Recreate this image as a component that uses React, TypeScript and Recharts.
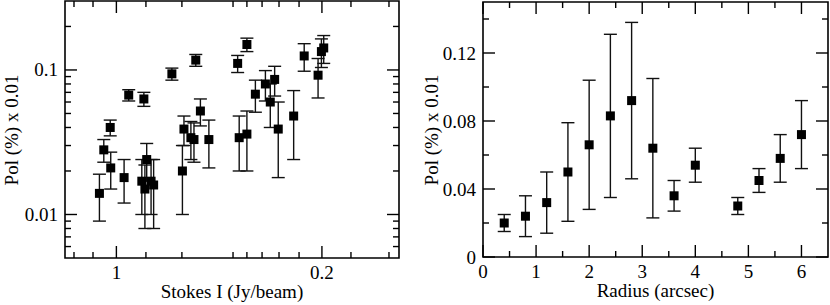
import { ScatterChart, Scatter, XAxis, YAxis, ErrorBar, ReferenceArea } from 'recharts'

// ---- left panel: polarisation vs Stokes I ----
const stokesI = [
  1.066, 1.049, 1.024, 1.022, 0.97, 0.952, 0.893, 0.901, 0.889, 0.882, 0.865, 0.855,
  0.784, 0.743, 0.737, 0.71, 0.698, 0.691, 0.673, 0.64, 0.528, 0.522, 0.492, 0.492,
  0.459, 0.42, 0.401, 0.384, 0.37, 0.31, 0.269, 0.215, 0.202, 0.193,
]
const polVsFlux = [
  0.014, 0.028, 0.04, 0.021, 0.018, 0.067, 0.063, 0.017, 0.015, 0.024, 0.017, 0.016,
  0.094, 0.02, 0.039, 0.034, 0.033, 0.117, 0.052, 0.033, 0.111, 0.034, 0.15, 0.036,
  0.068, 0.08, 0.06, 0.086, 0.039, 0.048, 0.125, 0.092, 0.134, 0.142,
]
const polVsFluxErr = [
  0.005, 0.005, 0.005, 0.006, 0.006, 0.006, 0.007, 0.007, 0.007, 0.007, 0.007, 0.008,
  0.009, 0.01, 0.009, 0.01, 0.01, 0.011, 0.011, 0.012, 0.015, 0.014, 0.016, 0.016,
  0.017, 0.019, 0.02, 0.02, 0.021, 0.024, 0.027, 0.028, 0.03, 0.031,
]

const fluxDomain = [-0.1, 1.2]
const fluxMajor = [1, 0.2]
const fluxMajorLabels = ['1', '0.2']
const fluxMinor = [1.165, 1.091, 0.885, 0.745, 0.546, 0.492, 0.433, 0.367, 0.289, 0.087, -0.061]

const polLogDomain = [0.005, 0.3]
const polLogMajor = [0.01, 0.1]
const polLogMajorLabels = ['0.01', '0.1']
const polLogMinor = [
  0.006, 0.007, 0.008, 0.009, 0.02, 0.03, 0.04, 0.05, 0.06, 0.07, 0.08, 0.09, 0.2,
]

// ---- right panel: polarisation vs radius ----
const radius = [0.4, 0.8, 1.2, 1.6, 2.0, 2.4, 2.8, 3.2, 3.6, 4.0, 4.8, 5.2, 5.6, 6.0]
const polVsRadius = [
  0.02, 0.024, 0.032, 0.05, 0.066, 0.083, 0.092, 0.064, 0.036, 0.054, 0.03, 0.045, 0.058, 0.072,
]
const polVsRadiusErr = [
  0.005, 0.012, 0.018, 0.029, 0.038, 0.048, 0.046, 0.041, 0.009, 0.01, 0.005, 0.007, 0.014, 0.02,
]

const radiusDomain = [0, 6.5]
const radiusMajor = [0, 1, 2, 3, 4, 5, 6]
const radiusMajorLabels = ['0', '1', '2', '3', '4', '5', '6']
const radiusMinor = [0.5, 1.5, 2.5, 3.5, 4.5, 5.5]

const polLinDomain = [0, 0.15]
const polLinMajor = [0, 0.04, 0.08, 0.12]
const polLinMajorLabels = ['0', '0.04', '0.08', '0.12']
const polLinMinor = [0.02, 0.06, 0.1, 0.14]

const FONT = '"Liberation Serif", "DejaVu Serif", serif'
const FS = 19
const MAJOR_LEN = 12
const MINOR_LEN = 6

function labelFor(v: number, major: number[], labels: string[]) {
  const i = major.findIndex((m) => Math.abs(m - v) < 1e-9)
  return i === -1 ? null : labels[i]
}

// ticks drawn inward on bottom + mirrored on top
function xTick(major: number[], labels: string[], plotH: number) {
  return (props: any) => {
    const { x, y, payload } = props
    const label = labelFor(payload.value, major, labels)
    const len = label != null ? MAJOR_LEN : MINOR_LEN
    return (
      <g>
        <line x1={x} x2={x} y1={y} y2={y - len} stroke="#000" strokeWidth={1.4} />
        <line x1={x} x2={x} y1={y - plotH} y2={y - plotH + len} stroke="#000" strokeWidth={1.4} />
        {label != null && (
          <text x={x} y={y + 20.5} textAnchor="middle" fontFamily={FONT} fontSize={FS} fill="#000">
            {label}
          </text>
        )}
      </g>
    )
  }
}

// ticks drawn inward on left + mirrored on right
function yTick(major: number[], labels: string[], plotW: number) {
  return (props: any) => {
    const { x, y, payload } = props
    const label = labelFor(payload.value, major, labels)
    const len = label != null ? MAJOR_LEN : MINOR_LEN
    return (
      <g>
        <line x1={x} x2={x + len} y1={y} y2={y} stroke="#000" strokeWidth={1.4} />
        <line x1={x + plotW} x2={x + plotW - len} y1={y} y2={y} stroke="#000" strokeWidth={1.4} />
        {label != null && (
          <text x={x - 7} y={y + 6.5} textAnchor="end" fontFamily={FONT} fontSize={FS} fill="#000">
            {label}
          </text>
        )}
      </g>
    )
  }
}

const squareMarker = (props: any) => (
  <rect x={props.cx - 4.5} y={props.cy - 4.5} width={9} height={9} fill="#000" />
)

const fluxData = stokesI.map((x, i) => ({ x, y: polVsFlux[i], err: polVsFluxErr[i] }))
const radiusData = radius.map((x, i) => ({ x, y: polVsRadius[i], err: polVsRadiusErr[i] }))

// axis boxes: YAxis 60 wide, XAxis 30 high; margins complete the plot box
const AX_W = 60
const AX_H = 30
const LEFT = { w: 420, h: 305, margin: { top: 1, right: 21, bottom: 47 - AX_H, left: 65 - AX_W } }
const RIGHT = { w: 410, h: 305, margin: { top: 2, right: 2, bottom: 48 - AX_H, left: 63 - AX_W } }

export default function App() {
  const lW = LEFT.w - 65 - LEFT.margin.right
  const lH = LEFT.h - LEFT.margin.top - 47
  const rW = RIGHT.w - 63 - RIGHT.margin.right
  const rH = RIGHT.h - RIGHT.margin.top - 48

  return (
    <div style={{ position: 'relative', width: 830, height: 305, background: '#fff' }}>
      <style>{'body{margin:0}'}</style>
      <div style={{ position: 'absolute', left: 0, top: 0 }}>
        <ScatterChart width={LEFT.w} height={LEFT.h} margin={LEFT.margin}>
          <XAxis
            type="number"
            dataKey="x"
            domain={fluxDomain}
            reversed
            allowDataOverflow
            ticks={[...fluxMajor, ...fluxMinor]}
            interval={0}
            height={AX_H}
            tickSize={0}
            tickMargin={0}
            axisLine={false}
            tickLine={false}
            tick={xTick(fluxMajor, fluxMajorLabels, lH)}
          />
          <YAxis
            type="number"
            dataKey="y"
            scale="log"
            domain={polLogDomain}
            allowDataOverflow
            ticks={[...polLogMajor, ...polLogMinor]}
            interval={0}
            width={AX_W}
            tickSize={0}
            tickMargin={0}
            axisLine={false}
            tickLine={false}
            tick={yTick(polLogMajor, polLogMajorLabels, lW)}
          />
          <ReferenceArea
            x1={fluxDomain[0]}
            x2={fluxDomain[1]}
            y1={polLogDomain[0]}
            y2={polLogDomain[1]}
            fill="none"
            fillOpacity={0}
            stroke="#000"
            strokeWidth={1.6}
          />
          <Scatter data={fluxData} shape={squareMarker} isAnimationActive={false}>
            <ErrorBar dataKey="err" direction="y" width={6.5} stroke="#111" strokeWidth={1.4} isAnimationActive={false} />
          </Scatter>
        </ScatterChart>
      </div>
      <div style={{ position: 'absolute', left: 420, top: 0 }}>
        <ScatterChart width={RIGHT.w} height={RIGHT.h} margin={RIGHT.margin}>
          <XAxis
            type="number"
            dataKey="x"
            domain={radiusDomain}
            allowDataOverflow
            ticks={[...radiusMajor, ...radiusMinor]}
            interval={0}
            height={AX_H}
            tickSize={0}
            tickMargin={0}
            axisLine={false}
            tickLine={false}
            tick={xTick(radiusMajor, radiusMajorLabels, rH)}
          />
          <YAxis
            type="number"
            dataKey="y"
            domain={polLinDomain}
            allowDataOverflow
            ticks={[...polLinMajor, ...polLinMinor]}
            interval={0}
            width={AX_W}
            tickSize={0}
            tickMargin={0}
            axisLine={false}
            tickLine={false}
            tick={yTick(polLinMajor, polLinMajorLabels, rW)}
          />
          <ReferenceArea
            x1={radiusDomain[0]}
            x2={radiusDomain[1]}
            y1={polLinDomain[0]}
            y2={polLinDomain[1]}
            fill="none"
            fillOpacity={0}
            stroke="#000"
            strokeWidth={1.6}
          />
          <Scatter data={radiusData} shape={squareMarker} isAnimationActive={false}>
            <ErrorBar dataKey="err" direction="y" width={6.5} stroke="#111" strokeWidth={1.4} isAnimationActive={false} />
          </Scatter>
        </ScatterChart>
      </div>
      {/* axis titles */}
      <svg width={830} height={305} style={{ position: 'absolute', left: 0, top: 0, pointerEvents: 'none' }}>
        <g fontFamily={FONT} fontSize={FS} fill="#000">
          <text x={232} y={298} textAnchor="middle">Stokes I (Jy/beam)</text>
          <text x={655.5} y={297} textAnchor="middle">Radius (arcsec)</text>
          <text x={18} y={130} textAnchor="middle" transform="rotate(-90 18 130)">Pol (%) x 0.01</text>
          <text x={438} y={130} textAnchor="middle" transform="rotate(-90 438 130)">Pol (%) x 0.01</text>
        </g>
      </svg>
    </div>
  )
}
